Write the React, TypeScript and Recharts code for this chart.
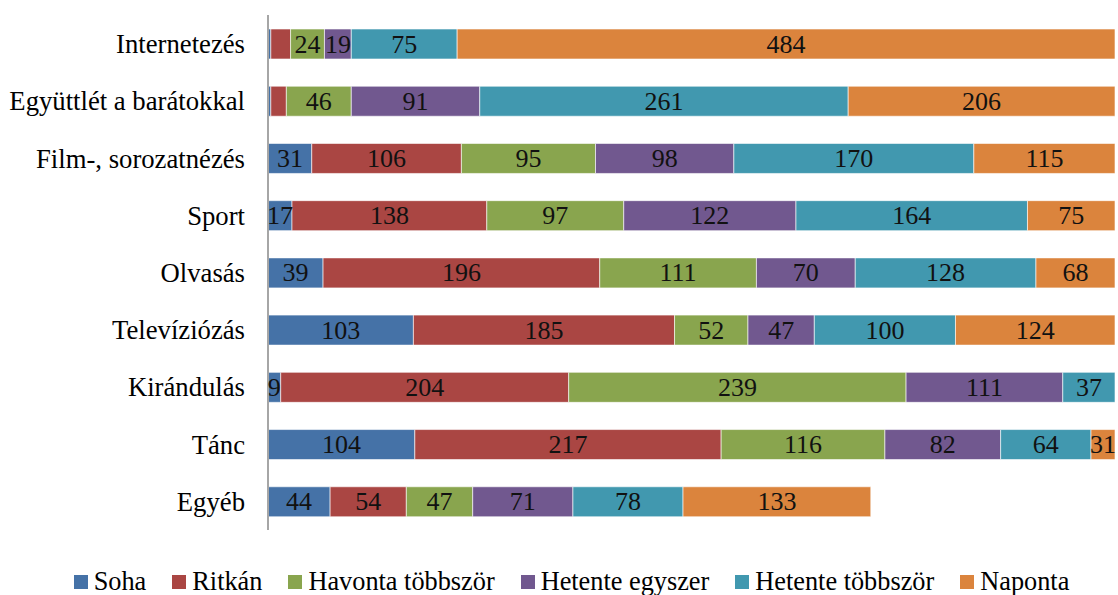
import React from "react";
import { BarChart, Bar, XAxis, YAxis, Legend, LabelList } from "recharts";

const categories = [
  "Internetezés",
  "Együttlét a barátokkal",
  "Film-, sorozatnézés",
  "Sport",
  "Olvasás",
  "Televíziózás",
  "Kirándulás",
  "Tánc",
  "Egyéb",
];
const soha = [2, 2, 31, 17, 39, 103, 9, 104, 44];
const ritkan = [14, 11, 106, 138, 196, 185, 204, 217, 54];
const havonta = [24, 46, 95, 97, 111, 52, 239, 116, 47];
const hetenteEgyszer = [19, 91, 98, 122, 70, 47, 111, 82, 71];
const hetenteTobbszor = [75, 261, 170, 164, 128, 100, 37, 64, 78];
const naponta = [484, 206, 115, 75, 68, 124, 3, 31, 133];

const seriesNames = ["Soha", "Ritkán", "Havonta többször", "Hetente egyszer", "Hetente többször", "Naponta"];
const seriesKeys = ["soha", "ritkan", "havonta", "hetEgy", "hetTobb", "naponta"];
const seriesColors = ["#4572A7", "#AA4643", "#89A54E", "#71588F", "#4198AF", "#DB843D"];
const seriesValues = [soha, ritkan, havonta, hetenteEgyszer, hetenteTobbszor, naponta];

// labels not displayed in the original (too narrow)
const hiddenLabels: [string, string][] = [
  ["Internetezés", "soha"],
  ["Internetezés", "ritkan"],
  ["Együttlét a barátokkal", "soha"],
  ["Együttlét a barátokkal", "ritkan"],
  ["Kirándulás", "naponta"],
];

const data = categories.map((c, i) => {
  const row: any = { name: c };
  seriesKeys.forEach((k, j) => {
    row[k] = seriesValues[j][i];
    const hidden = hiddenLabels.some(([hc, hk]) => hc === c && hk === k);
    row[k + "_label"] = hidden ? "" : String(seriesValues[j][i]);
  });
  return row;
});

const CHART_W = 1118;
const CHART_H = 595;
const MARGIN = { top: 15, right: 3, left: 0, bottom: 35 };
const PLOT_RIGHT = CHART_W - MARGIN.right;
const FONT = "Liberation Serif";

const renderLabel = (props: any) => {
  const { x, y, width, height, value } = props;
  if (value === "" || value == null) return null;
  const visRight = Math.min(x + width, PLOT_RIGHT);
  const cx = (x + visRight) / 2;
  return (
    <text
      x={cx}
      y={y + height / 2}
      textAnchor="middle"
      dominantBaseline="central"
      fontFamily={FONT}
      fontSize={26}
      fill="#111"
    >
      {value}
    </text>
  );
};

const renderLegend = () => (
  <div
    style={{
      display: "flex",
      justifyContent: "center",
      alignItems: "center",
      gap: 26,
      fontFamily: FONT,
      fontSize: 26.3,
      color: "#000",
      paddingLeft: 28,
    }}
  >
    {seriesNames.map((n, j) => (
      <div key={n} style={{ display: "flex", alignItems: "center" }}>
        <span
          style={{ width: 14, height: 14, background: seriesColors[j], display: "inline-block", marginRight: 6 }}
        />
        <span>{n}</span>
      </div>
    ))}
  </div>
);

export default function App() {
  return (
    <div style={{ position: "absolute", left: 0, top: 0, background: "#fff", fontFamily: FONT }}>
      <BarChart width={CHART_W} height={CHART_H} data={data} layout="vertical" margin={MARGIN} barSize={30}>
        <XAxis type="number" domain={[0, 600]} allowDataOverflow hide />
        <YAxis
          type="category"
          dataKey="name"
          width={268}
          tickLine={false}
          tickSize={0}
          tickMargin={23}
          axisLine={{ stroke: "#A6A6A6", strokeWidth: 2 }}
          tick={{ fontFamily: FONT, fontSize: 26.7, fill: "#000" }}
          interval={0}
        />
        <Legend verticalAlign="bottom" content={renderLegend} wrapperStyle={{ bottom: -2 }} />
        {seriesKeys.map((k, j) => (
          <Bar
            key={k}
            dataKey={k}
            name={seriesNames[j]}
            stackId="a"
            fill={seriesColors[j]}
            stroke="#ffffff"
            strokeWidth={0.6}
            isAnimationActive={false}
          >
            <LabelList dataKey={k + "_label"} content={renderLabel} />
          </Bar>
        ))}
      </BarChart>
    </div>
  );
}
